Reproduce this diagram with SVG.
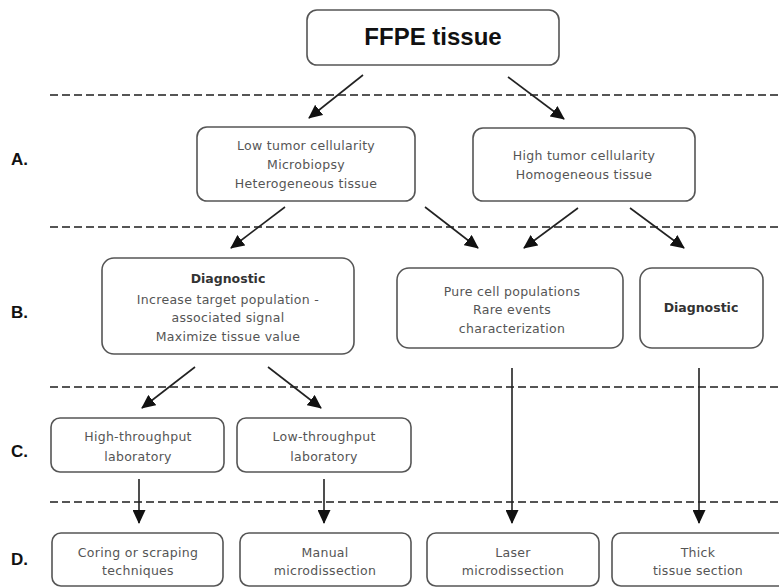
<svg xmlns="http://www.w3.org/2000/svg" width="779" height="587" viewBox="0 0 779 587">
<defs>
<marker id="ah" markerUnits="userSpaceOnUse" markerWidth="14" markerHeight="13" viewBox="0 0 14 13" refX="13" refY="6.5" orient="auto">
<path d="M0,0 L14,6.5 L0,13 z" fill="#111"/>
</marker>
</defs>
<style>
.bg{fill:#fff}
.box{fill:#fff;stroke:#555;stroke-width:1.6}
.t{font-family:"DejaVu Sans",sans-serif;font-size:12.5px;letter-spacing:0.3px;fill:#555;text-anchor:middle}
.tb{font-family:"DejaVu Sans",sans-serif;font-size:12.5px;font-weight:bold;fill:#333;text-anchor:middle}
.big{font-family:"Liberation Sans",Arial,sans-serif;font-size:24px;font-weight:bold;fill:#111;text-anchor:middle}
.lab{font-family:"Liberation Sans",Arial,sans-serif;font-size:17px;font-weight:bold;fill:#111}
.dash{stroke:#555;stroke-width:2;stroke-dasharray:8 4;fill:none}
.c{stroke:#222;stroke-width:1.6;fill:none;marker-end:url(#ah)}
</style>
<rect class="bg" x="0" y="0" width="779" height="587"/>

<g id="separators">
<line class="dash" x1="50" y1="95" x2="779" y2="95"/>
<line class="dash" x1="50" y1="227" x2="779" y2="227"/>
<line class="dash" x1="50" y1="387" x2="779" y2="387"/>
<line class="dash" x1="50" y1="502" x2="779" y2="502"/>
</g>

<g id="row-labels">
<text class="lab" x="11" y="165">A.</text>
<text class="lab" x="11" y="318">B.</text>
<text class="lab" x="11" y="457">C.</text>
<text class="lab" x="11" y="565">D.</text>
</g>

<g id="ffpe">
<rect class="box" x="307" y="10" width="252" height="55" rx="10"/>
<text class="big" x="433" y="45">FFPE tissue</text>
</g>

<g id="a-low">
<rect class="box" x="197" y="127" width="218" height="74" rx="10"/>
<text class="t" x="306" y="150">Low tumor cellularity</text>
<text class="t" x="306" y="169">Microbiopsy</text>
<text class="t" x="306" y="188">Heterogeneous tissue</text>
</g>

<g id="a-high">
<rect class="box" x="473" y="128" width="222" height="73" rx="10"/>
<text class="t" x="584" y="160">High tumor cellularity</text>
<text class="t" x="584" y="179">Homogeneous tissue</text>
</g>

<g id="b-diag-left">
<rect class="box" x="102" y="258" width="252" height="96" rx="12"/>
<text class="tb" x="228" y="283">Diagnostic</text>
<text class="t" x="228" y="304">Increase target population -</text>
<text class="t" x="228" y="322">associated signal</text>
<text class="t" x="228" y="341">Maximize tissue value</text>
</g>

<g id="b-pure">
<rect class="box" x="397" y="268" width="226" height="80" rx="12"/>
<text class="t" x="512" y="296">Pure cell populations</text>
<text class="t" x="512" y="314">Rare events</text>
<text class="t" x="512" y="333">characterization</text>
</g>

<g id="b-diag-right">
<rect class="box" x="640" y="268" width="123" height="80" rx="12"/>
<text class="tb" x="701" y="312">Diagnostic</text>
</g>

<g id="c-high">
<rect class="box" x="51" y="418" width="173" height="54" rx="9"/>
<text class="t" x="138" y="441">High-throughput</text>
<text class="t" x="138" y="461">laboratory</text>
</g>

<g id="c-low">
<rect class="box" x="237" y="418" width="174" height="54" rx="9"/>
<text class="t" x="324" y="441">Low-throughput</text>
<text class="t" x="324" y="461">laboratory</text>
</g>

<g id="d-coring">
<rect class="box" x="52" y="533" width="171" height="53" rx="9"/>
<text class="t" x="138" y="557">Coring or scraping</text>
<text class="t" x="138" y="575">techniques</text>
</g>

<g id="d-manual">
<rect class="box" x="240" y="533" width="171" height="53" rx="9"/>
<text class="t" x="325" y="557">Manual</text>
<text class="t" x="325" y="575">microdissection</text>
</g>

<g id="d-laser">
<rect class="box" x="427" y="533" width="172" height="53" rx="9"/>
<text class="t" x="513" y="557">Laser</text>
<text class="t" x="513" y="575">microdissection</text>
</g>

<g id="d-thick">
<rect class="box" x="612" y="533" width="180" height="53" rx="9"/>
<text class="t" x="698" y="557">Thick</text>
<text class="t" x="698" y="575">tissue section</text>
</g>

<g id="connectors">
<line class="c" x1="363" y1="75" x2="309" y2="118"/>
<line class="c" x1="508" y1="77" x2="564" y2="119"/>
<line class="c" x1="285" y1="207" x2="231" y2="248"/>
<line class="c" x1="425" y1="207" x2="478" y2="248"/>
<line class="c" x1="578" y1="208" x2="524" y2="248"/>
<line class="c" x1="630" y1="208" x2="684" y2="248"/>
<line class="c" x1="195" y1="367" x2="142" y2="408"/>
<line class="c" x1="268" y1="367" x2="321" y2="408"/>
<line class="c" x1="512" y1="368" x2="512" y2="523"/>
<line class="c" x1="699" y1="368" x2="699" y2="523"/>
<line class="c" x1="139" y1="479" x2="139" y2="523"/>
<line class="c" x1="324" y1="479" x2="324" y2="523"/>
</g>
</svg>
